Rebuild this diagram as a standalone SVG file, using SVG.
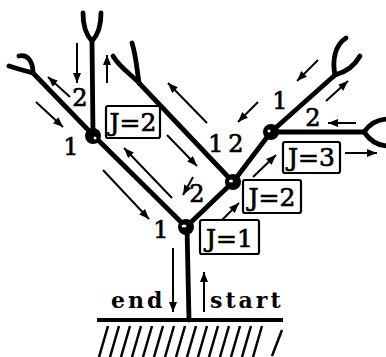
<svg xmlns="http://www.w3.org/2000/svg" width="386" height="357" viewBox="0 0 386 357">
  <style>
    .branch { fill: none; stroke: #000; stroke-width: 4.8; stroke-linecap: round; stroke-linejoin: round; }
    .flow { fill: none; stroke: #000; stroke-width: 2; marker-end: url(#head); }
    .hatch { stroke: #000; stroke-width: 2.5; }
    .box { fill: #fff; stroke: #000; stroke-width: 2.2; }
    .lbl { font-family: "DejaVu Serif", serif; font-size: 25px; fill: #000; stroke: #000; stroke-width: 0.7; text-anchor: middle; }
    .num { font-family: "DejaVu Serif", serif; font-size: 24px; fill: #000; stroke: #000; stroke-width: 0.7; text-anchor: middle; }
    .word { font-family: "DejaVu Serif", serif; font-size: 22px; font-weight: bold; fill: #000; letter-spacing: 3px; }
  </style>
  <defs>
    <marker id="head" markerUnits="userSpaceOnUse" markerWidth="12" markerHeight="10" refX="10" refY="4" orient="auto">
      <path d="M0,0 L10,4 L0,8 Z" fill="#000"/>
    </marker>
  </defs>

  <!-- ground with hatching -->
  <g id="ground">
    <line x1="97" y1="320" x2="283" y2="320" stroke="#000" stroke-width="4"/>
    <g class="hatch">
      <line x1="108" y1="326" x2="99" y2="357"/>
      <line x1="119" y1="326" x2="110" y2="357"/>
      <line x1="130" y1="326" x2="121" y2="357"/>
      <line x1="141" y1="326" x2="132" y2="357"/>
      <line x1="152" y1="326" x2="143" y2="357"/>
      <line x1="163" y1="326" x2="154" y2="357"/>
      <line x1="174" y1="326" x2="165" y2="357"/>
      <line x1="185" y1="326" x2="176" y2="357"/>
      <line x1="196" y1="326" x2="187" y2="357"/>
      <line x1="207" y1="326" x2="198" y2="357"/>
      <line x1="218" y1="326" x2="209" y2="357"/>
      <line x1="229" y1="326" x2="220" y2="357"/>
      <line x1="240" y1="326" x2="231" y2="357"/>
      <line x1="251" y1="326" x2="242" y2="357"/>
      <line x1="262" y1="326" x2="253" y2="357"/>
      <line x1="282" y1="330" x2="272" y2="356"/>
    </g>
  </g>

  <!-- tree branches and fork tips -->
  <g id="branches" class="branch">
    <path d="M187,227 L189,320"/>
    <path d="M186,227 L233,182 L271,132 L335,75"/>
    <path d="M335,75 C332,60 335,45 346,38"/>
    <path d="M335,75 C346,72 355,65 360,56"/>
    <path d="M186,227 L93,135 L33,73"/>
    <path d="M33,73 Q18,69 9,66"/>
    <path d="M33,73 C33,62 28,54 19,56"/>
    <path d="M93,135 L92,41"/>
    <path d="M83,13 C83,28 87,36 92,41 M101,13 C101,28 97,36 92,41"/>
    <path d="M233,182 L139,83"/>
    <path d="M139,83 C133,76 120,68 113,56"/>
    <path d="M139,83 C137,70 136,55 132,43"/>
    <path d="M271,132 L364,132"/>
    <path d="M364,132 C371,122 379,119 388,119 M364,132 C371,142 379,146 388,146"/>
  </g>

  <!-- junction nodes -->
  <g id="node-base">
    <circle cx="186" cy="227" r="8" fill="#000"/>
    <ellipse cx="184" cy="226" rx="2.5" ry="1.5" fill="#fff"/>
  </g>
  <g id="node-mid">
    <circle cx="233" cy="182" r="8" fill="#000"/>
    <ellipse cx="231" cy="181" rx="2" ry="1.5" fill="#fff"/>
  </g>
  <g id="node-right">
    <circle cx="271" cy="132" r="8" fill="#000"/>
    <ellipse cx="269" cy="131" rx="1.5" ry="1.5" fill="#fff"/>
  </g>
  <g id="node-left">
    <circle cx="93" cy="136" r="8" fill="#000"/>
    <ellipse cx="95" cy="138" rx="1.5" ry="1.5" fill="#fff"/>
  </g>

  <!-- direction arrows -->
  <g id="connectors">
    <line class="flow" x1="36" y1="102" x2="63" y2="127"/>
    <line class="flow" x1="70" y1="97" x2="48" y2="77"/>
    <line class="flow" x1="77" y1="43" x2="77" y2="83"/>
    <line class="flow" x1="107" y1="83" x2="107" y2="55"/>
    <line class="flow" x1="103" y1="170" x2="149" y2="219"/>
    <line class="flow" x1="172" y1="198" x2="124" y2="148"/>
    <line class="flow" x1="207" y1="123" x2="168" y2="83"/>
    <line class="flow" x1="167" y1="135" x2="197" y2="166"/>
    <line class="flow" x1="193" y1="177" x2="183" y2="195"/>
    <line class="flow" x1="222" y1="220" x2="239" y2="203"/>
    <line class="flow" x1="253" y1="177" x2="276" y2="155"/>
    <line class="flow" x1="258" y1="102" x2="238" y2="122"/>
    <line class="flow" x1="318" y1="60" x2="297" y2="81"/>
    <line class="flow" x1="326" y1="101" x2="348" y2="81"/>
    <line class="flow" x1="356" y1="123" x2="328" y2="123"/>
    <line class="flow" x1="345" y1="153" x2="377" y2="153"/>
    <line class="flow" x1="173" y1="248" x2="173" y2="312"/>
    <line class="flow" x1="204" y1="312" x2="204" y2="272"/>
  </g>

  <!-- boxed labels -->
  <g id="label-left">
    <rect class="box" x="106" y="106" width="54" height="32" rx="2"/>
    <text class="lbl" x="133" y="131">J=2</text>
  </g>
  <g id="label-mid">
    <rect class="box" x="243" y="180" width="58" height="33" rx="2"/>
    <text class="lbl" x="272" y="206">J=2</text>
  </g>
  <g id="label-base">
    <rect class="box" x="200" y="220" width="59" height="34" rx="2"/>
    <text class="lbl" x="229.5" y="247">J=1</text>
  </g>
  <g id="label-right">
    <rect class="box" x="283" y="142" width="57" height="31" rx="2"/>
    <text class="lbl" x="311.5" y="166">J=3</text>
  </g>

  <!-- branch numbers -->
  <g id="numbers">
    <text class="num" x="80" y="106">2</text>
    <text class="num" x="71" y="155">1</text>
    <text class="num" x="161" y="238">1</text>
    <text class="num" x="197" y="202">2</text>
    <text class="num" x="216" y="152">1</text>
    <text class="num" x="236" y="152">2</text>
    <text class="num" x="280" y="109">1</text>
    <text class="num" x="313" y="126">2</text>
  </g>

  <g id="words">
    <text class="word" x="111" y="308">end</text>
    <text class="word" x="210" y="308">start</text>
  </g>
</svg>
